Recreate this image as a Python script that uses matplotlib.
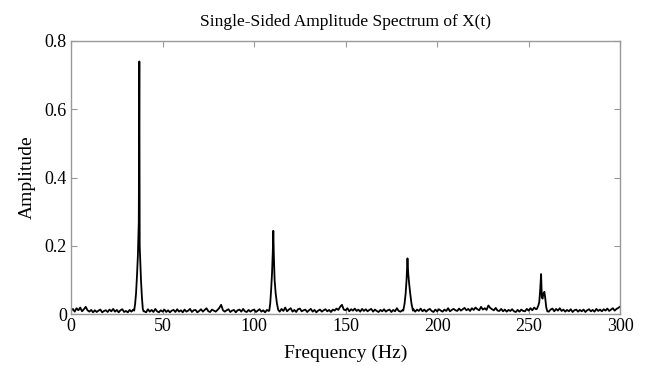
import numpy as np
import matplotlib
matplotlib.use("Agg")
import matplotlib.pyplot as plt

# noise floor read at 1 Hz steps, 0..300 Hz
noise_amp = [
    .010, .015, .007, .017, .011, .019, .008, .014, .021, .011,
    .007, .012, .005, .011, .006, .010, .013, .005, .009, .011,
    .006, .013, .008, .015, .007, .012, .005, .011, .014, .006,
    .009, .005, .012, .007, .013, .010, .009, .007, .010, .012,
    .008, .005, .014, .007, .012, .006, .015, .008, .005, .011,
    .007, .013, .006, .011, .005, .010, .012, .006, .014, .007,
    .011, .005, .013, .007, .010, .015, .006, .011, .012, .005,
    .009, .014, .007, .012, .017, .008, .006, .013, .010, .007,
    .012, .018, .027, .011, .007, .011, .014, .006, .010, .012,
    .005, .011, .013, .007, .015, .008, .006, .012, .007, .011,
    .013, .006, .010, .014, .007, .011, .005, .012, .009, .010,
    .010, .009, .011, .012, .007, .015, .009, .019, .008, .013,
    .017, .007, .012, .006, .014, .016, .008, .011, .013, .006,
    .011, .015, .007, .012, .005, .010, .013, .007, .011, .014,
    .008, .012, .006, .013, .010, .016, .012, .021, .027, .013,
    .011, .017, .008, .014, .010, .016, .009, .013, .007, .015,
    .009, .014, .008, .012, .015, .007, .013, .009, .006, .012,
    .008, .014, .007, .011, .013, .006, .012, .008, .017, .009,
    .007, .011, .012, .012, .010, .009, .011, .014, .007, .013,
    .009, .016, .008, .013, .007, .012, .015, .009, .006, .013,
    .008, .014, .010, .007, .013, .009, .017, .008, .012, .015,
    .011, .009, .016, .010, .014, .018, .011, .015, .009, .017,
    .012, .019, .014, .011, .021, .013, .017, .012, .025, .018,
    .014, .011, .018, .010, .009, .015, .008, .013, .007, .012,
    .009, .014, .008, .006, .012, .007, .013, .009, .008, .015,
    .010, .017, .011, .019, .014, .020, .030, .030, .030, .030,
    .010, .007, .013, .016, .008, .015, .010, .017, .009, .013,
    .007, .012, .008, .014, .006, .011, .013, .007, .012, .008,
    .013, .006, .011, .014, .008, .012, .007, .015, .009, .013,
    .008, .014, .010, .016, .009, .013, .017, .010, .015, .018,
    .022,
]
noise_freq = np.arange(len(noise_amp))

# peaks, read at finer steps
peak1_freq = [34.5, 35.0, 35.5, 36.0, 36.5, 37.0, 37.2, 37.3, 37.5, 37.8, 38.2, 38.7, 39.2, 39.6]
peak1_amp = [0.010, 0.030, 0.060, 0.110, 0.170, 0.270, 0.590, 0.740, 0.200, 0.160, 0.100, 0.050, 0.015, 0.008]
peak2_freq = [108.3, 108.8, 109.3, 109.8, 110.2, 110.5, 110.8, 111.2, 111.8, 112.5, 113.2, 113.8]
peak2_amp = [0.010, 0.030, 0.070, 0.120, 0.180, 0.244, 0.170, 0.100, 0.060, 0.030, 0.012, 0.008]
peak3_freq = [181.5, 182.2, 182.8, 183.3, 183.8, 184.2, 184.7, 185.3, 186.0, 186.8]
peak3_amp = [0.010, 0.030, 0.060, 0.100, 0.163, 0.120, 0.090, 0.060, 0.030, 0.010]
peak4_freq = [254.5, 255.3, 255.8, 256.3, 256.8, 257.2, 257.6, 258.0, 258.6, 259.1, 259.6, 260.2]
peak4_amp = [0.015, 0.025, 0.035, 0.070, 0.117, 0.050, 0.045, 0.060, 0.065, 0.045, 0.020, 0.008]

peaks = [(peak1_freq, peak1_amp), (peak2_freq, peak2_amp),
         (peak3_freq, peak3_amp), (peak4_freq, peak4_amp)]

# merge noise floor and peaks into one trace
f_all = []
a_all = []
for f, a in zip(noise_freq, noise_amp):
    if any(pf[0] <= f <= pf[-1] for pf, _ in peaks):
        continue
    f_all.append(f)
    a_all.append(a)
for pf, pa in peaks:
    f_all += pf
    a_all += pa
order = np.argsort(f_all)
f_all = np.array(f_all)[order]
a_all = np.array(a_all)[order]

plt.rcParams['font.family'] = ['Liberation Serif', 'DejaVu Serif']

fig = plt.figure(figsize=(6.46, 3.66), dpi=100)
ax = fig.add_axes([0.110, 0.142, 0.850, 0.746])
ax.plot(f_all, a_all, color='black', lw=1.3)

ax.set_xlim(0, 300)
ax.set_ylim(0, 0.8)
ax.set_xticks([0, 50, 100, 150, 200, 250, 300])
ax.set_yticks([0, 0.2, 0.4, 0.6, 0.8])
ax.set_yticklabels(['0', '0.2', '0.4', '0.6', '0.8'])
ax.tick_params(direction='in', top=True, right=True, length=4, color='#999999',
               labelsize=13, pad=3)
for s in ax.spines.values():
    s.set_color('#999999')
    s.set_linewidth(1.0)

ax.set_title('Single-Sided Amplitude Spectrum of X(t)', fontsize=12.5, pad=11)
ax.set_xlabel('Frequency (Hz)', fontsize=14, labelpad=7)
ax.set_ylabel('Amplitude', fontsize=14, labelpad=6)

fig.savefig('out.png', dpi=100)
